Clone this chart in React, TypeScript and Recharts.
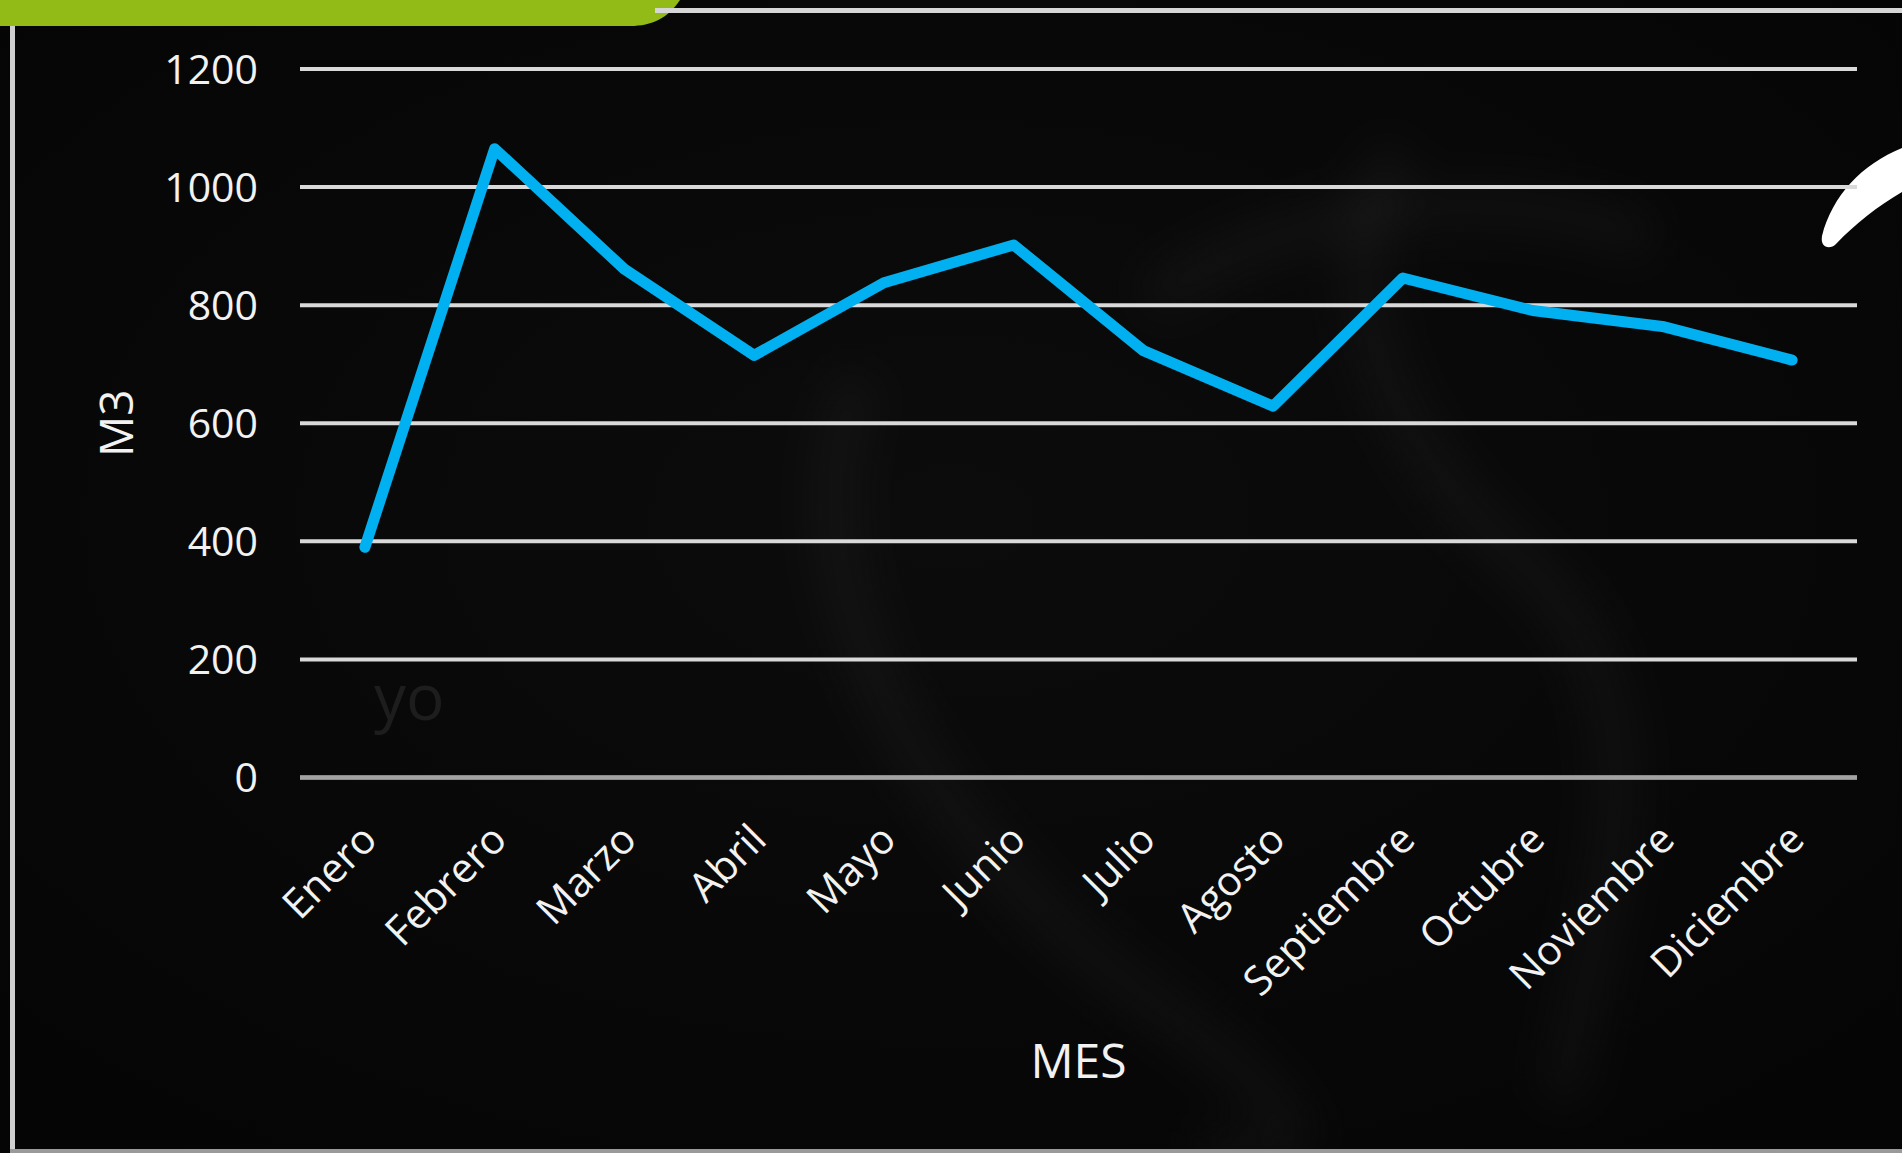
import React from "react";
import {
  CartesianGrid,
  Label,
  Line,
  LineChart,
  ReferenceLine,
  XAxis,
  YAxis,
} from "recharts";

const months = [
  "Enero",
  "Febrero",
  "Marzo",
  "Abril",
  "Mayo",
  "Junio",
  "Julio",
  "Agosto",
  "Septiembre",
  "Octubre",
  "Noviembre",
  "Diciembre",
];

const consumoM3 = [390, 1065, 861, 715, 838, 902, 723, 629, 846, 791, 764, 707];

const yTicks = [0, 200, 400, 600, 800, 1000, 1200];

const W = 1902;
const H = 1153;
const FONT = "'Open Sans', 'Noto Sans', sans-serif";
const TEXT = "#f2f2f2";

const data = months.map((mes, i) => ({ mes, m3: consumoM3[i] }));

// rotated month labels, end of text hangs just under the tick
function MonthTick(props: any) {
  const { x, y, payload } = props;
  return (
    <g transform={`translate(${x + 3},${y + 47})`}>
      <text
        transform="rotate(-45)"
        textAnchor="end"
        dominantBaseline="central"
        fill={TEXT}
        fontSize={41}
        fontFamily={FONT}
      >
        {payload.value}
      </text>
    </g>
  );
}

// background bits of the slide: green tab, frame lines, brush stroke
function Backdrop() {
  return (
    <svg width={W} height={H} style={{ position: "absolute", left: 0, top: 0 }}>
      <defs>
        <filter id="soft" x="-20%" y="-20%" width="140%" height="140%">
          <feGaussianBlur stdDeviation="22" />
        </filter>
        <radialGradient id="bg" cx="50%" cy="45%" r="70%">
          <stop offset="0%" stopColor="#0c0c0c" />
          <stop offset="100%" stopColor="#050505" />
        </radialGradient>
      </defs>
      <rect width={W} height={H} fill="url(#bg)" />
      <g filter="url(#soft)" fill="none" stroke="#ffffff" strokeOpacity={0.03} strokeWidth={45}>
        <path d="M860 380 C 780 560, 900 820, 1150 1000 S 1250 1150, 1200 1153" />
        <path d="M1400 150 C 1330 250, 1360 420, 1520 560 S 1600 900, 1560 1100" />
        <path d="M1150 300 C 1300 200, 1500 180, 1650 240" />
      </g>
      <path d="M0 0 H680 C 668 18, 652 26, 630 26 H0 Z" fill="#93bb17" />
      <rect x={655} y={8} width={W - 655} height={5} fill="#d6d6d6" />
      <rect x={10} y={26} width={5} height={H - 26} fill="#cfcfcf" />
      <rect x={10} y={H - 4} width={W - 10} height={4} fill="#9a9a9a" />
      <path
        d="M1902 148 C 1862 164, 1832 196, 1822 236 C 1820 248, 1830 250, 1836 244 C 1855 224, 1878 206, 1902 192 Z"
        fill="#ffffff"
      />
      <text x={374} y={720} fontSize={64} fontFamily={FONT} fill="#1d1d1d">
        yo
      </text>
    </svg>
  );
}

export default function App() {
  return (
    <div
      style={{
        position: "absolute",
        left: 0,
        top: 0,
        width: W,
        height: H,
        overflow: "hidden",
        background: "#070707",
      }}
    >
      <Backdrop />
      <div style={{ position: "absolute", left: 0, top: 0 }}>
        <LineChart
          width={W}
          height={H}
          data={data}
          margin={{ top: 69, right: 45, bottom: 175.5, left: 0 }}
        >
          <CartesianGrid vertical={false} stroke="#d9d9d9" strokeWidth={4} />
          <ReferenceLine y={0} stroke="#a3a3a3" strokeWidth={4} />
          <XAxis
            dataKey="mes"
            height={200}
            padding={{ left: 64.9, right: 64.9 }}
            axisLine={false}
            tickLine={false}
            interval={0}
            tickMargin={0}
            tick={<MonthTick />}
          >
            <Label
              content={(p: any) => {
                const vb = p.viewBox;
                return (
                  <text
                    x={vb.x + vb.width / 2}
                    y={1059}
                    textAnchor="middle"
                    dominantBaseline="central"
                    fill={TEXT}
                    fontSize={48}
                    fontFamily={FONT}
                  >
                    MES
                  </text>
                );
              }}
            />
          </XAxis>
          <YAxis
            width={300}
            domain={[0, 1200]}
            ticks={yTicks}
            interval={0}
            axisLine={false}
            tickLine={false}
            tickMargin={36}
            tick={{ fill: TEXT, fontSize: 41, fontFamily: FONT }}
          >
            <Label
              content={(p: any) => {
                const vb = p.viewBox;
                const cx = 115;
                const cy = vb.y + vb.height / 2;
                return (
                  <text
                    x={cx}
                    y={cy}
                    transform={`rotate(-90, ${cx}, ${cy})`}
                    textAnchor="middle"
                    dominantBaseline="central"
                    fill={TEXT}
                    fontSize={46}
                    fontFamily={FONT}
                  >
                    M3
                  </text>
                );
              }}
            />
          </YAxis>
          <Line
            type="linear"
            dataKey="m3"
            stroke="#00b0f0"
            strokeWidth={11}
            strokeLinecap="round"
            strokeLinejoin="round"
            dot={false}
            activeDot={false}
            isAnimationActive={false}
          />
        </LineChart>
      </div>
    </div>
  );
}
